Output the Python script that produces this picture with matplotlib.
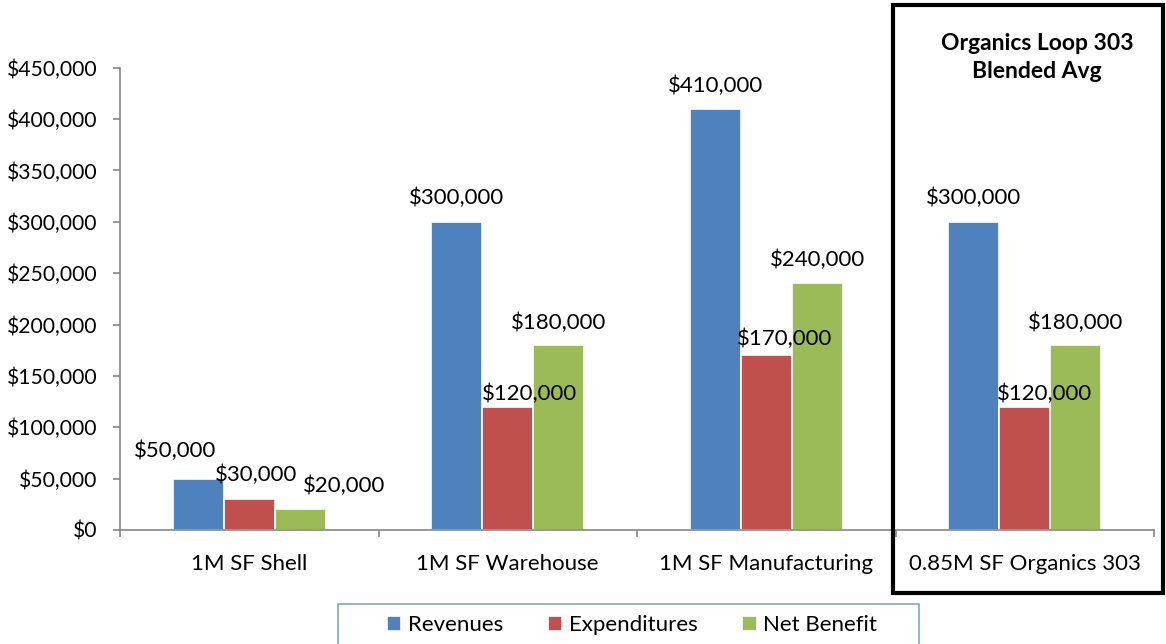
import numpy as np
import matplotlib.pyplot as plt
from matplotlib.patches import Rectangle
from matplotlib.ticker import FuncFormatter

plt.rcParams["font.family"] = ["Lato", "DejaVu Sans"]

categories = ["1M SF Shell", "1M SF Warehouse", "1M SF Manufacturing", "0.85M SF Organics 303"]
revenues = [50000, 300000, 410000, 300000]
expenditures = [30000, 120000, 170000, 120000]
net_benefit = [20000, 180000, 240000, 180000]

series = [("Revenues", revenues, "#4F81BD"),
          ("Expenditures", expenditures, "#C0504D"),
          ("Net Benefit", net_benefit, "#9BBB59")]

# label nudges (pixels) per series, per group, as placed in the original
label_offsets = [
    [(-23, 28), (0, 24), (0, 23), (0, 24)],
    [(7, 24), (22, 13), (18, 16), (20, 13)],
    [(44, 24), (0, 22), (0, 24), (0, 22)],
]

FS = 16
W, H = 1166, 644
fig = plt.figure(figsize=(W / 100, H / 100), dpi=100)
ax = fig.add_axes([120 / W, 1 - 530 / H, (1154 - 120) / W, (530 - 67.7) / H])

x = np.arange(len(categories))
slot = 0.197
for i, (name, vals, col) in enumerate(series):
    pos = x + (i - 1) * slot
    ax.bar(pos, vals, width=slot, color=col, edgecolor="white", linewidth=1.2, label=name)
    for j, v in enumerate(vals):
        dx, dy = label_offsets[i][j]
        ax.annotate(f"${v:,.0f}", (pos[j], v), xytext=(dx, dy), textcoords="offset pixels",
                    ha="center", va="center", fontsize=FS, color="black")

ax.set_xlim(-0.5, len(categories) - 0.5)
ax.set_ylim(0, 450000)
ax.set_yticks(np.arange(0, 450001, 50000))
ax.yaxis.set_major_formatter(FuncFormatter(lambda v, p: f"${v:,.0f}"))

ax.set_xticks(x, labels=categories)
ax.set_xticks(np.arange(-0.5, len(categories), 1), minor=True)
ax.tick_params(axis="x", which="major", length=0, pad=17, labelsize=FS)
ax.tick_params(axis="x", which="minor", length=5, color="#868686", width=1.2)
ax.tick_params(axis="y", length=5, color="#868686", width=1.2, pad=11, labelsize=15.2)

for s in ["top", "right"]:
    ax.spines[s].set_visible(False)
for s in ["left", "bottom"]:
    ax.spines[s].set_color("#868686")
    ax.spines[s].set_linewidth(1.2)

# highlight box around the Organics group
fig.patches.append(Rectangle((893 / W, 1 - 593 / H), (1163 - 893) / W, (593 - 5) / H,
                             transform=fig.transFigure, fill=False, edgecolor="black",
                             linewidth=3))
fig.text(1037 / W, 1 - 43 / H, "Organics Loop 303", ha="center", va="center",
         fontsize=FS + 0.5, fontweight="bold")
fig.text(1037 / W, 1 - 71 / H, "Blended Avg", ha="center", va="center",
         fontsize=FS + 0.5, fontweight="bold")

# legend frame, cut by the bottom edge like the original
fig.patches.append(Rectangle((338 / W, -0.05), (919 - 338) / W, 0.05 + (644 - 604) / H,
                             transform=fig.transFigure, fill=False, edgecolor="#7EA6D6",
                             linewidth=1.2))
fig.legend(loc="center", bbox_to_anchor=(632 / W, 1 - 625 / H), ncol=3, frameon=False,
           fontsize=FS, handlelength=0.65, handleheight=0.65, handletextpad=0.3,
           columnspacing=2.0)

fig.savefig("out.png", dpi=100)
